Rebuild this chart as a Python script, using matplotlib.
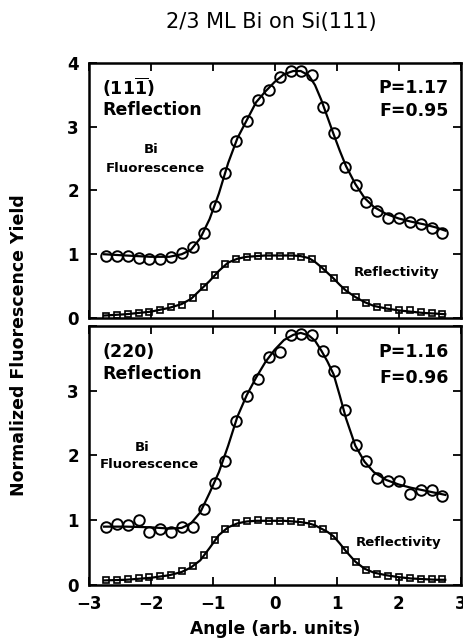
import matplotlib.pyplot as plt
import numpy as np

plt.rcParams['font.family'] = ['DejaVu Sans']
plt.rcParams['mathtext.fontset'] = 'custom'
plt.rcParams['mathtext.rm'] = 'DejaVu Sans:bold'

# ====== measured points (same angle grid for both panels)
angle = np.round(np.arange(32) * 0.175 - 2.72, 3)

fluor_111 = [0.98, 0.98, 0.98, 0.94, 0.93, 0.93, 0.96, 1.02, 1.12, 1.33, 1.75, 2.27,
             2.77, 3.08, 3.42, 3.58, 3.78, 3.87, 3.87, 3.80, 3.31, 2.90, 2.36, 2.09,
             1.82, 1.67, 1.57, 1.56, 1.50, 1.48, 1.41, 1.34]
refl_111 = [0.04, 0.05, 0.06, 0.08, 0.09, 0.12, 0.17, 0.21, 0.32, 0.49, 0.67, 0.84,
            0.93, 0.96, 0.97, 0.97, 0.98, 0.97, 0.96, 0.92, 0.77, 0.62, 0.44, 0.33,
            0.24, 0.18, 0.16, 0.13, 0.12, 0.10, 0.08, 0.06]
fluor_220 = [0.89, 0.94, 0.93, 1.00, 0.82, 0.87, 0.81, 0.90, 0.89, 1.17, 1.57, 1.92,
             2.53, 2.91, 3.18, 3.52, 3.60, 3.86, 3.88, 3.85, 3.61, 3.30, 2.70, 2.16,
             1.92, 1.65, 1.61, 1.61, 1.40, 1.46, 1.47, 1.38]
refl_220 = [0.07, 0.08, 0.09, 0.10, 0.12, 0.14, 0.16, 0.21, 0.30, 0.46, 0.69, 0.86,
            0.95, 0.99, 1.00, 0.99, 0.99, 0.99, 0.97, 0.94, 0.86, 0.75, 0.54, 0.35,
            0.23, 0.17, 0.14, 0.12, 0.10, 0.09, 0.09, 0.09]

# ====== fitted curves
fit_x = [-2.75, -2.4, -2.0, -1.7, -1.5, -1.35, -1.2, -1.05, -0.9, -0.75, -0.6, -0.45,
         -0.3, -0.15, 0.0, 0.15, 0.3, 0.42, 0.55, 0.65, 0.75, 0.85, 0.95, 1.05,
         1.15, 1.3, 1.45, 1.6, 1.8, 2.0, 2.2, 2.4, 2.6, 2.75]
fit_fluor_111 = [1.00, 0.98, 0.96, 0.96, 1.00, 1.07, 1.25, 1.55, 1.95, 2.43, 2.82, 3.10,
                 3.38, 3.55, 3.70, 3.82, 3.87, 3.87, 3.80, 3.65, 3.42, 3.15, 2.88, 2.62,
                 2.38, 2.10, 1.88, 1.74, 1.63, 1.56, 1.51, 1.47, 1.42, 1.37]
fit_refl_111 = [0.04, 0.06, 0.10, 0.16, 0.22, 0.30, 0.44, 0.58, 0.74, 0.87, 0.93, 0.96,
                0.97, 0.98, 0.98, 0.98, 0.98, 0.97, 0.94, 0.88, 0.80, 0.71, 0.62, 0.52,
                0.43, 0.33, 0.25, 0.19, 0.15, 0.12, 0.10, 0.08, 0.07, 0.06]
fit_fluor_220 = [0.90, 0.90, 0.89, 0.87, 0.88, 0.95, 1.12, 1.42, 1.74, 2.15, 2.60, 2.93,
                 3.20, 3.44, 3.63, 3.78, 3.86, 3.89, 3.85, 3.77, 3.62, 3.45, 3.25, 2.92,
                 2.57, 2.15, 1.90, 1.74, 1.62, 1.55, 1.50, 1.46, 1.42, 1.39]
fit_refl_220 = [0.07, 0.08, 0.11, 0.15, 0.20, 0.27, 0.38, 0.57, 0.77, 0.89, 0.95, 0.98,
                0.99, 0.99, 0.99, 0.99, 0.98, 0.97, 0.95, 0.92, 0.87, 0.82, 0.75, 0.64,
                0.52, 0.36, 0.25, 0.19, 0.15, 0.12, 0.10, 0.09, 0.08, 0.08]

xtick_labels = ['\u22123', '\u22122', '\u22121', '0', '1', '2', '3']

panels = [
    dict(fl=fluor_111, rf=refl_111, ffl=fit_fluor_111, frf=fit_refl_111,
         name=r'$(11\overline{1})$', P='P=1.17', F='F=0.95',
         ny=0.905, fy=0.81,
         bi=(0.167, 0.66), fluo=(0.178, 0.584), refl=(0.828, 0.18)),
    dict(fl=fluor_220, rf=refl_220, ffl=fit_fluor_220, frf=fit_refl_220,
         name='(220)', P='P=1.16', F='F=0.96',
         ny=0.90, fy=0.80,
         bi=(0.145, 0.53), fluo=(0.164, 0.463), refl=(0.833, 0.162)),
]

fig = plt.figure(figsize=(4.64, 6.4), dpi=100)
boxes = [(0.191, 0.503, 0.802, 0.399), (0.191, 0.086, 0.802, 0.405)]

for i, (p, box) in enumerate(zip(panels, boxes)):
    ax = fig.add_axes(box)
    ax.plot(fit_x, p['ffl'], 'k-', lw=1.6)
    ax.plot(fit_x, p['frf'], 'k-', lw=1.6)
    ax.plot(angle, p['fl'], 'o', ms=7.6, mfc='none', mec='k', mew=1.4)
    ax.plot(angle, p['rf'], 's', ms=5, mfc='none', mec='k', mew=1.2)
    ax.set_xlim(-3, 3)
    ax.set_ylim(0, 4)
    ax.tick_params(direction='in', top=True, right=True, length=6, width=1.3,
                   labelsize=12, pad=7)
    ax.set_xticks(np.arange(-3, 4, 1), xtick_labels if i == 1 else [''] * 7,
                  fontweight='bold')
    ylabs = ['0', '1', '2', '3', '4'] if i == 0 else ['0', '1', '2', '3', '']
    ax.set_yticks(np.arange(0, 5, 1), ylabs, fontweight='bold')
    for s in ax.spines.values():
        s.set_linewidth(1.8)

    ax.text(0.036, p['ny'], p['name'], transform=ax.transAxes,
            fontsize=12.5, fontweight='bold', va='center', ha='left')
    ax.text(0.036, 0.815, 'Reflection', transform=ax.transAxes,
            fontsize=12.5, fontweight='bold', va='center', ha='left')
    ax.text(0.967, 0.90, p['P'], transform=ax.transAxes,
            fontsize=12.5, fontweight='bold', va='center', ha='right')
    ax.text(0.967, p['fy'], p['F'], transform=ax.transAxes,
            fontsize=12.5, fontweight='bold', va='center', ha='right')
    ax.text(*p['bi'], 'Bi', transform=ax.transAxes, fontsize=9.5,
            fontweight='bold', ha='center', va='center')
    ax.text(*p['fluo'], 'Fluorescence', transform=ax.transAxes, fontsize=9.5,
            fontweight='bold', ha='center', va='center')
    ax.text(*p['refl'], 'Reflectivity', transform=ax.transAxes, fontsize=9.5,
            fontweight='bold', ha='center', va='center')
    if i == 1:
        ax.set_xlabel('Angle (arb. units)', fontsize=12.3, fontweight='bold',
                      labelpad=5)

fig.text(0.585, 0.966, '2/3 ML Bi on Si(111)', fontsize=15, ha='center', va='center')
fig.text(0.041, 0.461, 'Normalized Fluorescence Yield', fontsize=12.5,
         fontweight='bold', rotation=90, ha='center', va='center')

plt.savefig('out.png', dpi=100)
